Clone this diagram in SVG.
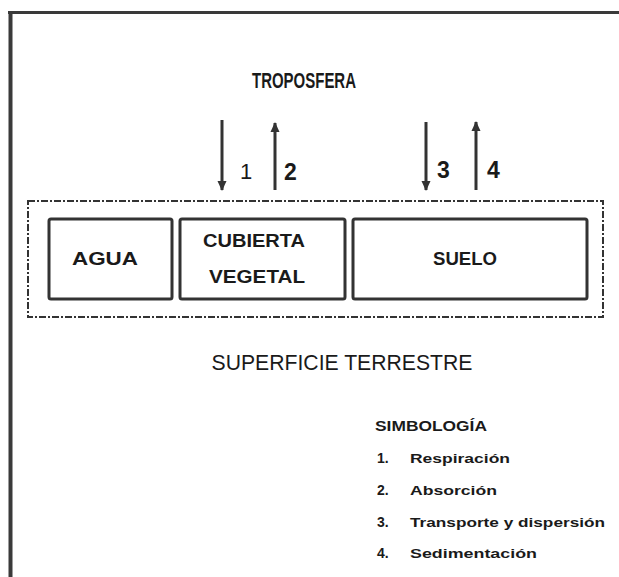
<svg xmlns="http://www.w3.org/2000/svg" width="619" height="577" viewBox="0 0 619 577">
<style>
.frame{stroke:#3a3a3a;fill:none}
.box{fill:#fff;stroke:#333;stroke-width:3}
.t{font-family:"Liberation Sans",Arial,sans-serif;fill:#1a1a1a}
.b{font-weight:bold}
.arr{stroke:#333;stroke-width:3;fill:none}
</style>
<defs>
<marker id="ah" markerUnits="userSpaceOnUse" markerWidth="10" markerHeight="10" viewBox="0 0 10 10" refX="9" refY="5" orient="auto">
<path d="M0,0.5 L10,5 L0,9.5 Z" fill="#333"/>
</marker>
</defs>
<rect width="619" height="577" fill="#fff"/>
<g id="frame">
<line class="frame" x1="8" y1="12.5" x2="619" y2="12.5" stroke-width="3"/>
<line class="frame" x1="10.5" y1="12" x2="10.5" y2="577" stroke-width="4"/>
</g>
<g id="troposfera">
<text class="t b" x="304" y="88" font-size="22" text-anchor="middle" textLength="104" lengthAdjust="spacingAndGlyphs">TROPOSFERA</text>
</g>
<g id="connectors">
<line class="arr" x1="222" y1="120" x2="222" y2="190" marker-end="url(#ah)"/>
<line class="arr" x1="275" y1="190" x2="275" y2="123" marker-end="url(#ah)"/>
<line class="arr" x1="426" y1="122" x2="426" y2="190" marker-end="url(#ah)"/>
<line class="arr" x1="476" y1="190" x2="476" y2="122" marker-end="url(#ah)"/>
<text class="t" x="240" y="179" font-size="22">1</text>
<text class="t" x="284" y="180" font-size="23" font-weight="bold">2</text>
<text class="t" x="437" y="178" font-size="23" font-weight="bold">3</text>
<text class="t" x="487" y="178" font-size="23" font-weight="bold">4</text>
</g>
<g id="superficie">
<rect x="28" y="201" width="575" height="116" fill="none" stroke="#333" stroke-width="2" stroke-dasharray="7 2 2 2"/>
<text class="t" x="342" y="370" font-size="22" text-anchor="middle" textLength="261" lengthAdjust="spacingAndGlyphs">SUPERFICIE TERRESTRE</text>
</g>
<g id="agua">
<rect class="box" x="49" y="219" width="123" height="80" rx="2"/>
<text class="t b" x="105" y="265" font-size="19" text-anchor="middle" textLength="66" lengthAdjust="spacingAndGlyphs">AGUA</text>
</g>
<g id="cubierta">
<rect class="box" x="180" y="219" width="165" height="80" rx="2"/>
<text class="t b" x="254" y="247" font-size="19" text-anchor="middle" textLength="102" lengthAdjust="spacingAndGlyphs">CUBIERTA</text>
<text class="t b" x="257" y="283" font-size="19" text-anchor="middle" textLength="96" lengthAdjust="spacingAndGlyphs">VEGETAL</text>
</g>
<g id="suelo">
<rect class="box" x="353" y="219" width="234" height="80" rx="2"/>
<text class="t b" x="465" y="265" font-size="19" text-anchor="middle" textLength="64" lengthAdjust="spacingAndGlyphs">SUELO</text>
</g>
<g id="simbologia">
<text class="t b" x="375" y="431" font-size="14" textLength="112" lengthAdjust="spacingAndGlyphs">SIMBOLOGÍA</text>
<text class="t b" x="377" y="463" font-size="14">1.</text>
<text class="t b" x="410" y="463" font-size="13" textLength="100" lengthAdjust="spacingAndGlyphs">Respiración</text>
<text class="t b" x="377" y="495" font-size="14">2.</text>
<text class="t b" x="410" y="495" font-size="13" textLength="87" lengthAdjust="spacingAndGlyphs">Absorción</text>
<text class="t b" x="377" y="527" font-size="14">3.</text>
<text class="t b" x="410" y="527" font-size="13" textLength="195" lengthAdjust="spacingAndGlyphs">Transporte y dispersión</text>
<text class="t b" x="377" y="558" font-size="14">4.</text>
<text class="t b" x="410" y="558" font-size="13" textLength="127" lengthAdjust="spacingAndGlyphs">Sedimentación</text>
</g>
</svg>
